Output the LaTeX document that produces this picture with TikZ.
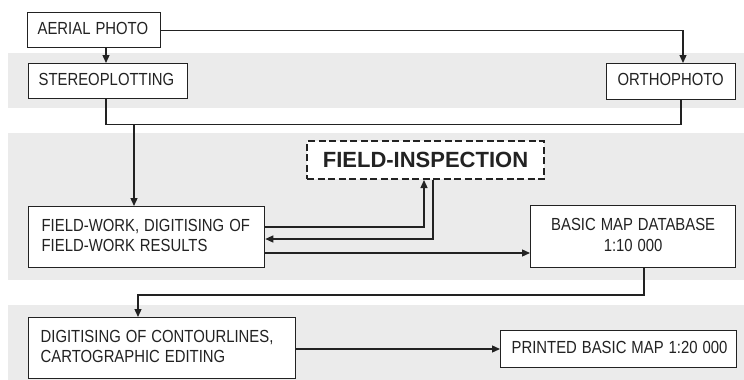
\documentclass[tikz,border=0pt]{standalone}
\usepackage{fontspec}
\usepackage{graphicx}
\setmainfont{Liberation Sans}
\usetikzlibrary{arrows.meta}
\definecolor{bandgray}{HTML}{EBEBEB}
\definecolor{ink}{HTML}{222222}
\newcommand\sq[1]{\scalebox{0.85}[1]{\begin{tabular}{@{}l@{}}#1\end{tabular}}}
\newcommand\sqc[1]{\scalebox{0.85}[1]{\begin{tabular}{@{}c@{}}#1\end{tabular}}}
\tikzset{
  band/.style={fill=bandgray},
  box/.style={draw=ink, line width=1.3pt, fill=white, anchor=north west,
    inner xsep=10pt, inner ysep=0pt, align=left, text=ink,
    font=\fontsize{17.5}{20.5}\selectfont},
  conn/.style={draw=ink, line width=1.3pt},
  arr/.style={conn, -{Triangle[width=7pt,length=8pt]}}
}
\begin{document}
\begin{tikzpicture}[x=1pt,y=-1pt]
\useasboundingbox (0,0) rectangle (744,380);
% bands
\fill[band] (8,53) rectangle (744,108);
\fill[band] (8,133) rectangle (744,280);
\fill[band] (8,305) rectangle (744,380);
% boxes
\node[box, text width=113pt, minimum height=35pt] (aerial) at (27,12) {\sq{AERIAL PHOTO}};
\node[box, text width=139pt, minimum height=35pt] (stereo) at (28,63) {\sq{STEREOPLOTTING}};
\node[box, inner xsep=11pt, text width=107pt, minimum height=36pt] (ortho) at (606,63) {\sq{ORTHOPHOTO}};
\node[box, inner xsep=13pt, text width=210pt, minimum height=61pt] (field) at (28,206) {\sq{FIELD-WORK, DIGITISING OF\\FIELD-WORK RESULTS}};
\node[box, dash pattern=on 7pt off 3.5pt, line width=2pt, inner xsep=0pt, text width=237pt, minimum height=38pt, align=center, font=\bfseries\fontsize{22}{24}\selectfont] (insp) at (306,140) {FIELD-INSPECTION};
\node[box, inner xsep=0pt, text width=205pt, minimum height=62pt, align=center] (basic) at (530,205) {\sqc{BASIC MAP DATABASE\\1:10 000}};
\node[box, inner xsep=12pt, text width=243pt, minimum height=61pt] (digit) at (28,317) {\sq{DIGITISING OF CONTOURLINES,\\CARTOGRAPHIC EDITING}};
\node[box, inner xsep=11pt, text width=214pt, minimum height=37pt] (printed) at (500,330) {\sq{PRINTED BASIC MAP 1:20 000}};
% connectors
\draw[arr] ([xshift=79pt]aerial.south west) -- ([xshift=79pt]aerial.south west |- stereo.north);
\draw[arr] (aerial.east) -| ([xshift=77pt]ortho.north west);
\coordinate (junc) at ([xshift=106pt, yshift=-25pt]field.north west |- stereo.south);
\draw[conn] ([xshift=78pt]stereo.south west) |- ([xshift=75pt]ortho.south west |- junc) -- ([xshift=75pt]ortho.south west);
\draw[arr] (junc) -- (junc |- field.north);
\draw[arr] ([yshift=-21pt]field.north east) -| ([xshift=118pt]insp.south west);
\draw[arr] ([xshift=127pt]insp.south west) |- ([yshift=-33pt]field.north east);
\draw[arr] ([yshift=-47pt]field.north east) -- ([yshift=-47pt]field.north east -| basic.west);
\draw[arr] ([xshift=114pt]basic.south west) |- ([xshift=110pt, yshift=22pt]digit.north west) -- ([xshift=110pt]digit.north west);
\draw[arr] ([yshift=-32pt]digit.north east) -- ([yshift=-32pt]digit.north east -| printed.west);
\end{tikzpicture}
\end{document}
